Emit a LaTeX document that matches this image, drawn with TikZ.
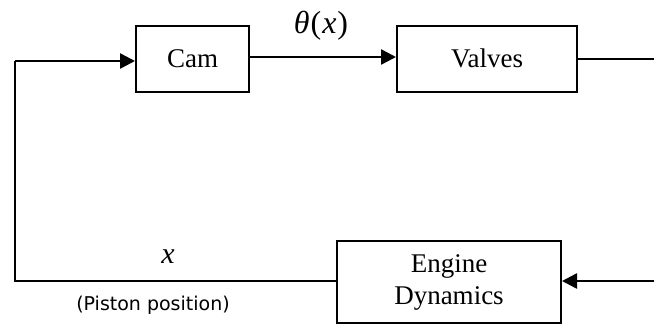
\documentclass[tikz,border=0pt]{standalone}
\usepackage{fontspec}
\setmainfont{Liberation Serif}
\newfontfamily\labelsans{DejaVu Sans}
\usetikzlibrary{arrows.meta}
\begin{document}
\begin{tikzpicture}[x=1pt,y=-1pt,
  blockbox/.style={draw, line width=2pt, inner sep=0pt, align=center,
    font=\fontsize{27}{32}\selectfont},
  conn/.style={line width=2.6pt},
  arr/.style={conn, -{Triangle[length=15pt,width=15pt]}},
  lbl/.style={inner sep=0pt}]
\useasboundingbox (0,0) rectangle (654,325);
\node[blockbox, minimum width=113pt, minimum height=66pt] (cam) at (192.5,58.5) {Cam};
\node[blockbox, minimum width=180pt, minimum height=66pt] (valves) at (487,58.5) {Valves};
\node[blockbox, minimum width=224pt, minimum height=82pt] (engine) at (449,282) {Engine\\Dynamics};
\coordinate (fbtop) at (15,61);
\coordinate (outR) at (654,59);
\coordinate (inR) at (654,281);
\draw[arr] (fbtop) -- ([yshift=-2.5pt]cam.west);
\draw[conn] (fbtop) |- ([yshift=1pt]engine.west);
\draw[arr] ([yshift=1.5pt]cam.east) -- ([yshift=1.5pt]valves.west);
\draw[conn] (valves.east |- outR) -- (outR);
\draw[arr] (inR) -- (engine.east |- inR);
\node[lbl, font=\fontsize{32}{34}\selectfont] (theta) at (321,26) {\textit{θ}\kern1pt(\kern1pt\textit{x}\kern1pt)};
\node[lbl, font=\fontsize{30}{32}\selectfont\itshape] (xlbl) at (168,257) {x};
\node[lbl, font=\labelsans\fontsize{19}{21}\selectfont] (piston) at (153,305) {(Piston position)};
\end{tikzpicture}
\end{document}
